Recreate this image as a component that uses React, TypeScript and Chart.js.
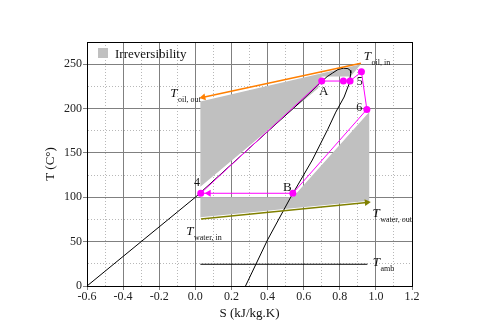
import React, { useEffect, useRef } from 'react';
import { Chart, registerables } from 'chart.js';

Chart.register(...registerables);

// Axis ranges
const sMin = -0.6;
const sMax = 1.2;
const tMin = 0;
const tMax = 275;

// Saturation curve (liquid line -> dome -> vapour line)
const satS = [-0.6, -0.3, 0.0, 0.2, 0.4, 0.593, 0.676, 0.73, 0.76, 0.79, 0.82, 0.845, 0.858, 0.861, 0.852, 0.824, 0.778, 0.732, 0.648, 0.528, 0.4, 0.278];
const satT = [0, 50, 100, 137, 174, 209.5, 226, 236, 240, 244, 245.5, 245, 243, 240, 228, 213, 196, 176, 142, 100, 52, 0];

// Cycle 4 -> A -> ... -> 5 -> 6 -> B -> 4
const cycleS = [0.03, 0.70, 0.82, 0.857, 0.92, 0.95, 0.54, 0.074, 0.03];
const cycleT = [104.5, 231, 231, 231, 241.5, 199, 104.5, 104.5, 104.5];

// Oil stream (in -> out)
const oilS = [0.917, 0.044];
const oilT = [251, 212.8];

// Water stream (in -> out)
const waterS = [0.031, 0.95];
const waterT = [75.5, 94.2];

// Ambient
const ambS = [0.028, 0.953];
const ambT = [24.5, 24.5];

// Irreversibility regions
const upperS = [0.028, 0.917, 0.86, 0.70, 0.68, 0.028, 0.028];
const upperT = [208, 250, 236, 236, 223, 112, 208];
const lowerS = [0.028, 0.54, 0.963, 0.963, 0.028, 0.028];
const lowerT = [100, 100, 196, 96, 77.5, 100];

// Text annotations (anchored in data coordinates)
const tempLabels = [
  { main: 'T', sub: 'oil, in', s: 0.933, t: 254.5 },
  { main: 'T', sub: 'oil, out', s: -0.139, t: 213.2 },
  { main: 'T', sub: 'water, in', s: -0.05, t: 57.4 },
  { main: 'T', sub: 'water, out', s: 0.981, t: 78 },
  { main: 'T', sub: 'amb', s: 0.983, t: 22.5 },
];
const pointLabels = [
  { text: 'A', s: 0.711, t: 215, size: 13 },
  { text: 'B', s: 0.509, t: 107.3, size: 13 },
  { text: '4', s: 0.009, t: 112.6, size: 12 },
  { text: '5', s: 0.911, t: 226, size: 12 },
  { text: '6', s: 0.908, t: 197.5, size: 12 },
];
const legendLabel = 'Irreversibility';

const SERIF = '"Liberation Serif", "Times New Roman", serif';
const GRAY = '#c0c0c0';
const PINK = '#ff00ff';
const ORANGE = '#ff7f00';
const OLIVE = '#808000';

const zip = (xs: number[], ys: number[]) => xs.map((x, i) => ({ x, y: ys[i] }));

const isMajorX = (v: number) => Math.abs(Math.round(v * 10)) % 2 === 0;
const isMajorY = (v: number) => Math.round(v) % 50 === 0;

const annotPlugin = {
  id: 'annot',
  afterDatasetsDraw(chart: any) {
    const { ctx, chartArea, scales } = chart;
    const x = scales.x;
    const y = scales.y;
    ctx.save();
    // frame top + right
    ctx.strokeStyle = '#000';
    ctx.lineWidth = 1;
    ctx.beginPath();
    ctx.moveTo(chartArea.left, chartArea.top + 0.5);
    ctx.lineTo(chartArea.right + 1, chartArea.top + 0.5);
    ctx.moveTo(chartArea.right + 0.5, chartArea.top);
    ctx.lineTo(chartArea.right + 0.5, chartArea.bottom + 1);
    ctx.stroke();

    // legend
    ctx.fillStyle = GRAY;
    ctx.fillRect(chartArea.left + 11, chartArea.top + 6, 10, 10);
    ctx.fillStyle = '#111';
    ctx.font = `13px ${SERIF}`;
    ctx.textAlign = 'left';
    ctx.textBaseline = 'alphabetic';
    ctx.fillText(legendLabel, chartArea.left + 28, chartArea.top + 15.5);

    // temperature labels
    for (const l of tempLabels) {
      const px = x.getPixelForValue(l.s);
      const py = y.getPixelForValue(l.t);
      ctx.font = `italic 13px ${SERIF}`;
      ctx.fillText(l.main, px, py);
      const w = ctx.measureText(l.main).width;
      ctx.font = `8px ${SERIF}`;
      ctx.fillText(l.sub, px + w + 0.5, py + 5);
    }
    // point labels
    ctx.textAlign = 'center';
    for (const l of pointLabels) {
      ctx.font = `${l.size}px ${SERIF}`;
      ctx.fillText(l.text, x.getPixelForValue(l.s), y.getPixelForValue(l.t));
    }
    ctx.restore();
  },
};

export default function App() {
  const ref = useRef<HTMLCanvasElement | null>(null);

  useEffect(() => {
    if (!ref.current) return;
    const cycleRadius = cycleS.map((_, i) => (i === cycleS.length - 1 ? 0 : i === 7 ? 4 : 3.5));
    const cycleStyle = cycleS.map((_, i) => (i === 7 ? 'triangle' : 'circle'));
    const cycleRot = cycleS.map((_, i) => (i === 7 ? -90 : 0));

    const chart = new Chart(ref.current, {
      type: 'scatter',
      data: {
        datasets: [
          {
            label: 'upper',
            data: zip(upperS, upperT),
            showLine: true,
            fill: 'shape',
            backgroundColor: GRAY,
            borderColor: GRAY,
            borderWidth: 0,
            pointRadius: 0,
            order: 10,
          },
          {
            label: 'lower',
            data: zip(lowerS, lowerT),
            showLine: true,
            fill: 'shape',
            backgroundColor: GRAY,
            borderColor: GRAY,
            borderWidth: 0,
            pointRadius: 0,
            order: 9,
          },
          {
            label: 'sat',
            data: zip(satS, satT),
            showLine: true,
            borderColor: '#000',
            borderWidth: 1,
            pointRadius: 0,
            order: 5,
          },
          {
            label: 'amb',
            data: zip(ambS, ambT),
            showLine: true,
            borderColor: '#000',
            borderWidth: 1,
            pointRadius: 0,
            order: 5,
          },
          {
            label: 'oil',
            data: zip(oilS, oilT),
            showLine: true,
            borderColor: ORANGE,
            backgroundColor: ORANGE,
            borderWidth: 1.5,
            pointRadius: [0, 4],
            pointStyle: ['circle', 'triangle'],
            rotation: [0, -102],
            pointBorderWidth: 0,
            order: 4,
          },
          {
            label: 'water',
            data: zip(waterS, waterT),
            showLine: true,
            borderColor: OLIVE,
            backgroundColor: OLIVE,
            borderWidth: 1.5,
            pointRadius: [0, 4],
            pointStyle: ['circle', 'triangle'],
            rotation: [0, 84],
            pointBorderWidth: 0,
            order: 4,
          },
          {
            label: 'cycle',
            data: zip(cycleS, cycleT),
            showLine: true,
            borderColor: PINK,
            backgroundColor: PINK,
            borderWidth: 1,
            pointRadius: cycleRadius,
            pointStyle: cycleStyle,
            rotation: cycleRot,
            pointBorderWidth: 0,
            order: 1,
          },
        ] as any,
      },
      options: {
        animation: false,
        responsive: false,
        events: [],
        layout: { padding: { left: 0, right: 70, top: 42, bottom: 0 } },
        plugins: {
          legend: { display: false },
          tooltip: { enabled: false },
        },
        scales: {
          x: {
            type: 'linear',
            min: sMin,
            max: sMax,
            afterFit: (s: any) => {
              s.height = 38;
            },
            ticks: {
              stepSize: 0.1,
              autoSkip: false,
              maxRotation: 0,
              padding: 0,
              color: '#222',
              font: { family: SERIF, size: 12 },
              callback: (v: any) => (isMajorX(Number(v)) ? (Math.round(Number(v) * 10) / 10).toFixed(1) : ''),
            },
            grid: {
              color: (c: any) => (isMajorX(c.tick?.value ?? 0) ? '#808080' : '#b8b8b8'),
              tickColor: (c: any) => (isMajorX(c.tick?.value ?? 0) ? '#808080' : 'rgba(0,0,0,0)'),
              tickLength: 4,
              lineWidth: 1,
            },
            border: {
              color: '#000',
              width: 1,
              dash: (c: any) => (isMajorX(c.tick?.value ?? 0) ? [] : [1, 2]),
            },
            title: {
              display: true,
              text: 'S (kJ/kg.K)',
              color: '#111',
              font: { family: SERIF, size: 13 },
              padding: { top: 0, bottom: 3 },
            },
          },
          y: {
            type: 'linear',
            min: tMin,
            max: tMax,
            afterFit: (s: any) => {
              s.width = 87;
            },
            ticks: {
              stepSize: 25,
              autoSkip: false,
              padding: 1,
              color: '#222',
              font: { family: SERIF, size: 12 },
              callback: (v: any) => (isMajorY(Number(v)) ? String(Math.round(Number(v))) : ''),
            },
            grid: {
              color: (c: any) => (isMajorY(c.tick?.value ?? 0) ? '#808080' : '#b8b8b8'),
              tickColor: (c: any) => (isMajorY(c.tick?.value ?? 0) ? '#808080' : 'rgba(0,0,0,0)'),
              tickLength: 4,
              lineWidth: 1,
            },
            border: {
              color: '#000',
              width: 1,
              dash: (c: any) => (isMajorY(c.tick?.value ?? 0) ? [] : [1, 2]),
            },
            title: {
              display: true,
              text: 'T (C°)',
              color: '#111',
              font: { family: SERIF, size: 13 },
              padding: { top: 43, bottom: 0 },
            },
          },
        },
      } as any,
      plugins: [annotPlugin],
    });
    return () => chart.destroy();
  }, []);

  return (
    <div style={{ position: 'fixed', left: 0, top: 0, width: 482, height: 324, background: '#fff' }}>
      <canvas ref={ref} width={482} height={324} style={{ width: 482, height: 324, display: 'block' }} />
    </div>
  );
}
